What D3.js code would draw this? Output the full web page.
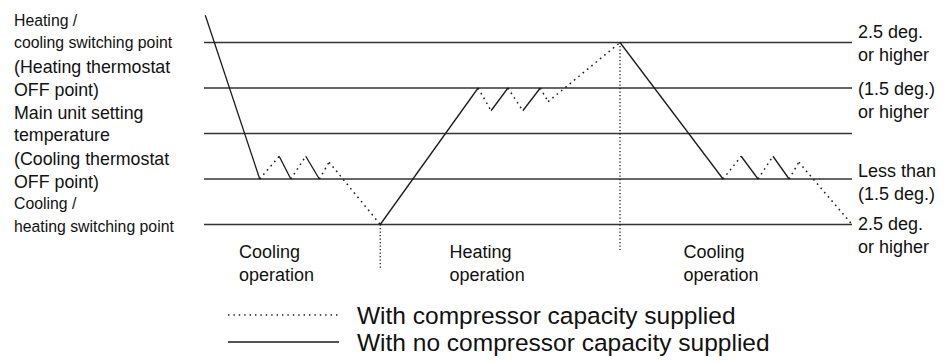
<!DOCTYPE html>
<html>
<head>
<meta charset="utf-8">
<script src="https://cdn.jsdelivr.net/npm/d3@7"></script>
<style>
  html, body { margin: 0; padding: 0; background: #fff; }
  svg { display: block; font-family: "Liberation Sans", Arial, Helvetica, sans-serif; }
</style>
</head>
<body>
<svg id="chart" width="947" height="363"></svg>
<script>
// Reference levels (0 = cooling/heating switch ... 4 = heating/cooling switch)
const levels = [0, 1, 2, 3, 4];

// Room temperature trace: time (arbitrary units 0..100) and level
const traceTime  = [0.2, 8.6, 11.6, 13.4, 15.7, 17.8, 19.3, 27.2, 42.3, 44.3, 46.9, 49.2, 51.9, 53.1, 64.2, 80.1, 82.9, 85.5, 87.8, 90.3, 91.8, 100];
const traceLevel = [4.6, 1,   1.5,  1,    1.5,  1,    1.37, 0,    3,    2.5,  3,    2.5,  3,    2.7,  4,    1,    1.5,  1,    1.5,  1,    1.37, 0];
// true = segment runs with compressor capacity supplied (dotted)
const supplied   = [false, true, false, true, false, true, true, false, true, false, true, false, true, true, false, true, false, true, false, true, true];

// Mode changeover markers
const switchTime  = [27.2, 64.2];
const switchLevel = [0, 4];

// Left-hand labels (lines, baseline, font size)
const leftLabels = [
  { lines: ["Heating /", "cooling switching point"], y: [26, 48], size: 15.8 },
  { lines: ["(Heating thermostat", "OFF point)"], y: [73, 96], size: 17.8 },
  { lines: ["Main unit setting", "temperature"], y: [119, 141], size: 17.8 },
  { lines: ["(Cooling thermostat", "OFF point)"], y: [165, 188], size: 17.8 },
  { lines: ["Cooling /", "heating switching point"], y: [209, 232], size: 15.8 }
];

// Right-hand labels
const rightLabels = [
  { lines: ["2.5 deg.", "or higher"], y: [38, 61] },
  { lines: ["(1.5 deg.)", "or higher"], y: [95, 118] },
  { lines: ["Less than", "(1.5 deg.)"], y: [177, 200] },
  { lines: ["2.5 deg.", "or higher"], y: [230, 253] }
];

// Operation mode labels under the chart
const modeLabels = [
  { text: ["Cooling", "operation"], t: 5.4 },
  { text: ["Heating", "operation"], t: 37.9 },
  { text: ["Cooling", "operation"], t: 74.0 }
];

const legendItems = [
  { label: "With compressor capacity supplied", dotted: true },
  { label: "With no compressor capacity supplied", dotted: false }
];

const svg = d3.select("#chart");
const x = d3.scaleLinear().domain([0, 100]).range([204, 852]);
const y = d3.scaleLinear().domain([0, 4]).range([224.5, 42.5]);

const ink = "#1a1a1a";
const dash = "1.6,4.0";

// Horizontal reference lines
svg.append("g").selectAll("line").data(levels).join("line")
  .attr("x1", x(0)).attr("x2", x(100))
  .attr("y1", d => y(d)).attr("y2", d => y(d))
  .attr("stroke", "#333").attr("stroke-width", 1.4);

// Vertical dotted changeover markers
svg.append("g").selectAll("line").data(switchTime).join("line")
  .attr("x1", d => x(d)).attr("x2", d => x(d))
  .attr("y1", (d, i) => y(switchLevel[i]))
  .attr("y2", (d, i) => i === 0 ? 268 : 250)
  .attr("stroke", ink).attr("stroke-width", 1.3)
  .attr("stroke-dasharray", "1.3,2.2");

// Temperature trace, segment by segment
const pts = traceTime.map((t, i) => [t, traceLevel[i]]);
const line = d3.line().x(d => x(d[0])).y(d => y(d[1]));
svg.append("g").selectAll("path").data(supplied).join("path")
  .attr("d", (s, i) => line([pts[i], pts[i + 1]]))
  .attr("fill", "none")
  .attr("stroke", ink)
  .attr("stroke-width", s => s ? 1.5 : 1.3)
  .attr("stroke-dasharray", s => s ? dash : null);

// Left labels
const lg = svg.append("g").attr("fill", "#111");
leftLabels.forEach(l => {
  l.lines.forEach((txt, j) => {
    lg.append("text").attr("x", 14).attr("y", l.y[j])
      .attr("font-size", l.size).text(txt);
  });
});

// Right labels
const rg = svg.append("g").attr("fill", "#111").attr("font-size", 18);
rightLabels.forEach(l => {
  l.lines.forEach((txt, j) => {
    rg.append("text").attr("x", 858).attr("y", l.y[j]).text(txt);
  });
});

// Mode labels
const mg = svg.append("g").attr("fill", "#111").attr("font-size", 18);
modeLabels.forEach(m => {
  m.text.forEach((txt, j) => {
    mg.append("text").attr("x", x(m.t)).attr("y", 258 + j * 23).text(txt);
  });
});

// Legend
const leg = svg.append("g");
legendItems.forEach((it, i) => {
  const yy = 315 + i * 27;
  leg.append("line").attr("x1", 228).attr("x2", 339).attr("y1", yy).attr("y2", yy)
    .attr("stroke", ink).attr("stroke-width", 1.3)
    .attr("stroke-dasharray", it.dotted ? "1.4,4.0" : null);
  leg.append("text").attr("x", 357).attr("y", yy + 8.5)
    .attr("font-size", 24.5).attr("fill", "#111").text(it.label);
});
</script>
</body>
</html>
